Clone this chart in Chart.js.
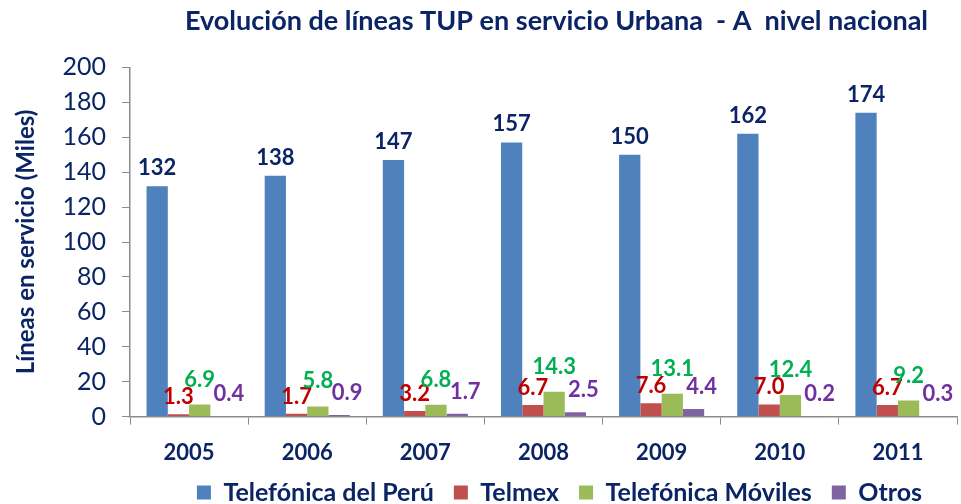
<!DOCTYPE html>
<html>
<head>
<meta charset="utf-8">
<script src="https://cdn.jsdelivr.net/npm/chart.js@4/dist/chart.umd.min.js"></script>
<style>
  html, body { margin: 0; padding: 0; background: #fff; }
  #wrap { width: 961px; height: 504px; }
</style>
</head>
<body>
<div id="wrap"><canvas id="tupChart"></canvas></div>
<script>
const years = ["2005", "2006", "2007", "2008", "2009", "2010", "2011"];
const telefonicaPeru = [132, 138, 147, 157, 150, 162, 174];
const telmex = [1.3, 1.7, 3.2, 6.7, 7.6, 7.0, 6.7];
const telefonicaMoviles = [6.9, 5.8, 6.8, 14.3, 13.1, 12.4, 9.2];
const otros = [0.4, 0.9, 1.7, 2.5, 4.4, 0.2, 0.3];
const yTicks = [0, 20, 40, 60, 80, 100, 120, 140, 160, 180, 200];

const navy = "#0b2466";
const fontFamily = "Lato, 'Open Sans', sans-serif";

// Value labels above each bar, one style per series.
const labelStyles = [
  { color: navy, dx: 0, dy: -11, digits: 0 },
  { color: "#c00000", dx: 0, dy: -10, digits: 1 },
  { color: "#00b050", dx: 0, dy: -18, digits: 1 },
  { color: "#7030a0", dx: 8, dy: -15, digits: 1 },
];
const barLabels = {
  id: "barLabels",
  afterDatasetsDraw(chart) {
    const { ctx } = chart;
    ctx.save();
    ctx.font = "bold 22px " + fontFamily;
    ctx.textAlign = "center";
    ctx.textBaseline = "alphabetic";
    chart.data.datasets.forEach((ds, i) => {
      const st = labelStyles[i];
      chart.getDatasetMeta(i).data.forEach((bar, j) => {
        ctx.fillStyle = st.color;
        ctx.fillText(ds.data[j].toFixed(st.digits), bar.x + st.dx, bar.y + st.dy);
      });
    });
    ctx.restore();
  },
};

// Title and legend sit a bit right of the plot centre in the original.
const nudgeBoxes = {
  id: "nudgeBoxes",
  beforeDraw(chart) {
    if (chart.titleBlock) { chart.titleBlock.left += 13; chart.titleBlock.right += 13; }
    if (chart.legend) { chart.legend.left += 16; chart.legend.right += 16; }
  },
};

const ctx = document.getElementById("tupChart").getContext("2d");
new Chart(ctx, {
  type: "bar",
  data: {
    labels: years,
    datasets: [
      { label: "Telefónica del Perú", data: telefonicaPeru, backgroundColor: "#4f81bd" },
      { label: "Telmex", data: telmex, backgroundColor: "#c0504d" },
      { label: "Telefónica Móviles", data: telefonicaMoviles, backgroundColor: "#9bbb59" },
      { label: "Otros", data: otros, backgroundColor: "#8064a2" },
    ],
  },
  plugins: [barLabels, nudgeBoxes],
  options: {
    responsive: true,
    maintainAspectRatio: false,
    animation: false,
    datasets: {
      bar: { categoryPercentage: 0.72, barPercentage: 1.0 },
    },
    layout: { padding: { left: 0, right: 4, top: 0, bottom: -11 } },
    plugins: {
      tooltip: { enabled: false },
      title: {
        display: true,
        fullSize: false,
        text: "Evolución de líneas TUP en servicio Urbana  - A  nivel nacional",
        color: navy,
        font: { family: fontFamily, size: 27, weight: "bold" },
        padding: { top: 5, bottom: 30 },
      },
      legend: {
        position: "bottom",
        fullSize: false,
        labels: {
          color: navy,
          font: { family: fontFamily, size: 25, weight: "bold" },
          boxWidth: 14,
          boxHeight: 14,
          padding: 20,
        },
      },
    },
    scales: {
      x: {
        afterFit(scale) { scale.height -= 21; },
        grid: {
          display: true,
          drawOnChartArea: false,
          drawTicks: true,
          tickLength: 8,
          color: "#8c8c8c",
          offset: true,
        },
        border: { display: true, color: "#8c8c8c", width: 1.5 },
        ticks: {
          color: navy,
          font: { family: fontFamily, size: 22, weight: "bold" },
          padding: 15,
        },
      },
      y: {
        min: 0,
        max: 200,
        afterFit(scale) { scale.width = 130; },
        afterBuildTicks(scale) { scale.ticks = yTicks.map((v) => ({ value: v })); },
        grid: {
          display: true,
          drawOnChartArea: false,
          drawTicks: true,
          tickLength: 8,
          color: "#8c8c8c",
        },
        border: { display: true, color: "#8c8c8c", width: 1.5 },
        ticks: {
          color: navy,
          font: { family: fontFamily, size: 25 },
          padding: 16,
          autoSkip: false,
        },
        title: {
          display: true,
          text: "Líneas en servicio (Miles)",
          color: navy,
          font: { family: fontFamily, size: 24, weight: "bold" },
          padding: { top: 12, bottom: 0 },
        },
      },
    },
  },
});
</script>
</body>
</html>
